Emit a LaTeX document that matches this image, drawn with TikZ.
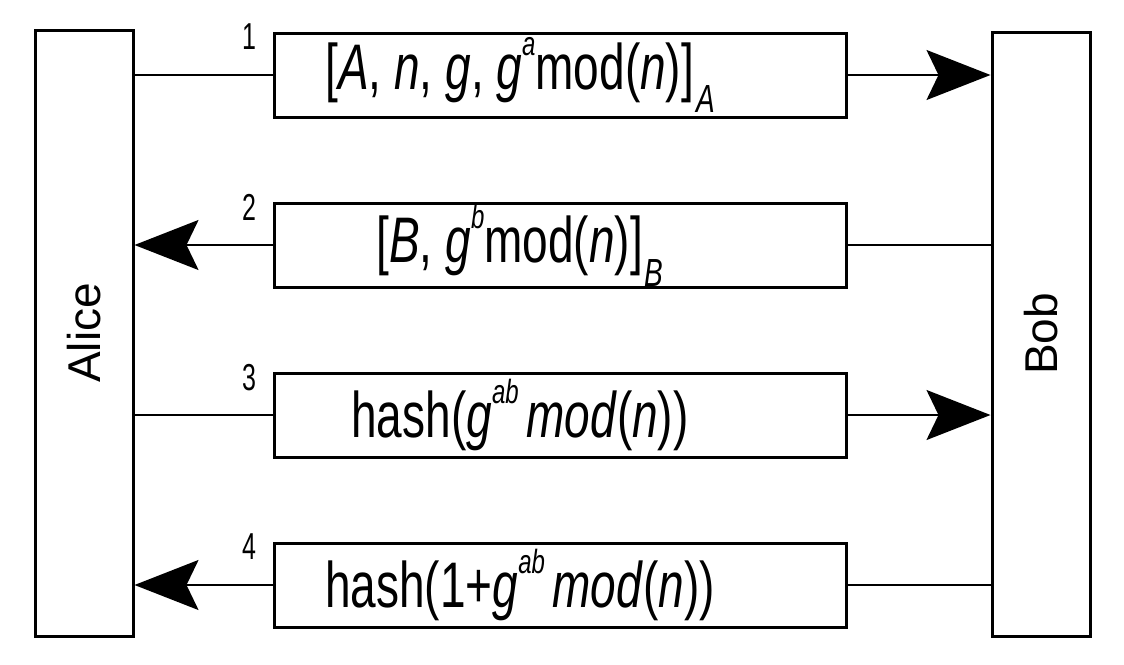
\documentclass[tikz,border=0pt]{standalone}
\usepackage{fontspec}
\setmainfont{Liberation Sans}
\usepackage{graphicx}
\usetikzlibrary{positioning,arrows.meta}
\newcommand{\tallmsg}[1]{\scalebox{1}[1.4]{#1}\hspace*{40pt}}
\newcommand{\tallnum}[1]{\scalebox{1}[1.5]{#1}}
\newcommand{\upidx}[1]{\raisebox{1.0ex}{\fontsize{12}{12}\selectfont\textit{#1}}}
\newcommand{\lowidx}[1]{\raisebox{-0.7ex}{\fontsize{14}{14}\selectfont\textit{#1}}}

\begin{document}
\begin{tikzpicture}[x=0.5pt, y=-0.5pt, font=\fontsize{23}{27}\selectfont,
		party/.style={draw, line width=1.5pt, minimum width=49pt, minimum height=303pt, inner sep=0pt},
		msg/.style={draw, line width=1.5pt, minimum width=286pt, minimum height=42pt, inner sep=0pt},
		num/.style={font=\fontsize{12.5}{12}\selectfont, inner sep=0pt, anchor=north east},
		wire/.style={line width=1pt},
		tip/.style={wire, -{Stealth[length=32pt, width=25pt, inset=6pt]}}]
		\useasboundingbox (0,0) rectangle (1124,664);
		\node[party] (alice) at (84,333) {\rotatebox{90}{Alice}};
		\node[party, minimum height=302pt] (bob) at (1041,334) {\rotatebox{90}{Bob}};
		\node[msg] (m1) at (560,75) {\tallmsg{[\textit{A}, \textit{n}, \textit{g}, \textit{g}\upidx{a}mod(\textit{n})]\kern1pt\lowidx{A}}};
		\node[msg, below=41.5pt of m1] (m2) {\tallmsg{[\textit{B}, \textit{g}\upidx{b}mod(\textit{n})]\kern1pt\lowidx{B}}};
		\node[msg, below=41.5pt of m2] (m3) {\tallmsg{hash(\textit{g}\upidx{ab}\,\textit{mod}(\textit{n}))}};
		\node[msg, below=41.5pt of m3] (m4) {\tallmsg{hash(1+\textit{g}\upidx{ab}\,\textit{mod}(\textit{n}))}};
		% step numbers
		\node[num] at ([xshift=-8pt, yshift=4pt]m1.north west) {\tallnum{1}};
		\node[num] at ([xshift=-8pt, yshift=4pt]m2.north west) {\tallnum{2}};
		\node[num] at ([xshift=-8pt, yshift=4pt]m3.north west) {\tallnum{3}};
		\node[num] at ([xshift=-8pt, yshift=4pt]m4.north west) {\tallnum{4}};
		% messages
		\draw[wire] (alice.east |- m1.west) -- (m1.west);
		\draw[tip] (m1.east) -- (bob.west |- m1.east);
		\draw[wire] (bob.west |- m2.east) -- (m2.east);
		\draw[tip] (m2.west) -- (alice.east |- m2.west);
		\draw[wire] (alice.east |- m3.west) -- (m3.west);
		\draw[tip] (m3.east) -- (bob.west |- m3.east);
		\draw[wire] (bob.west |- m4.east) -- (m4.east);
		\draw[tip] (m4.west) -- (alice.east |- m4.west);
	\end{tikzpicture}
\end{document}
